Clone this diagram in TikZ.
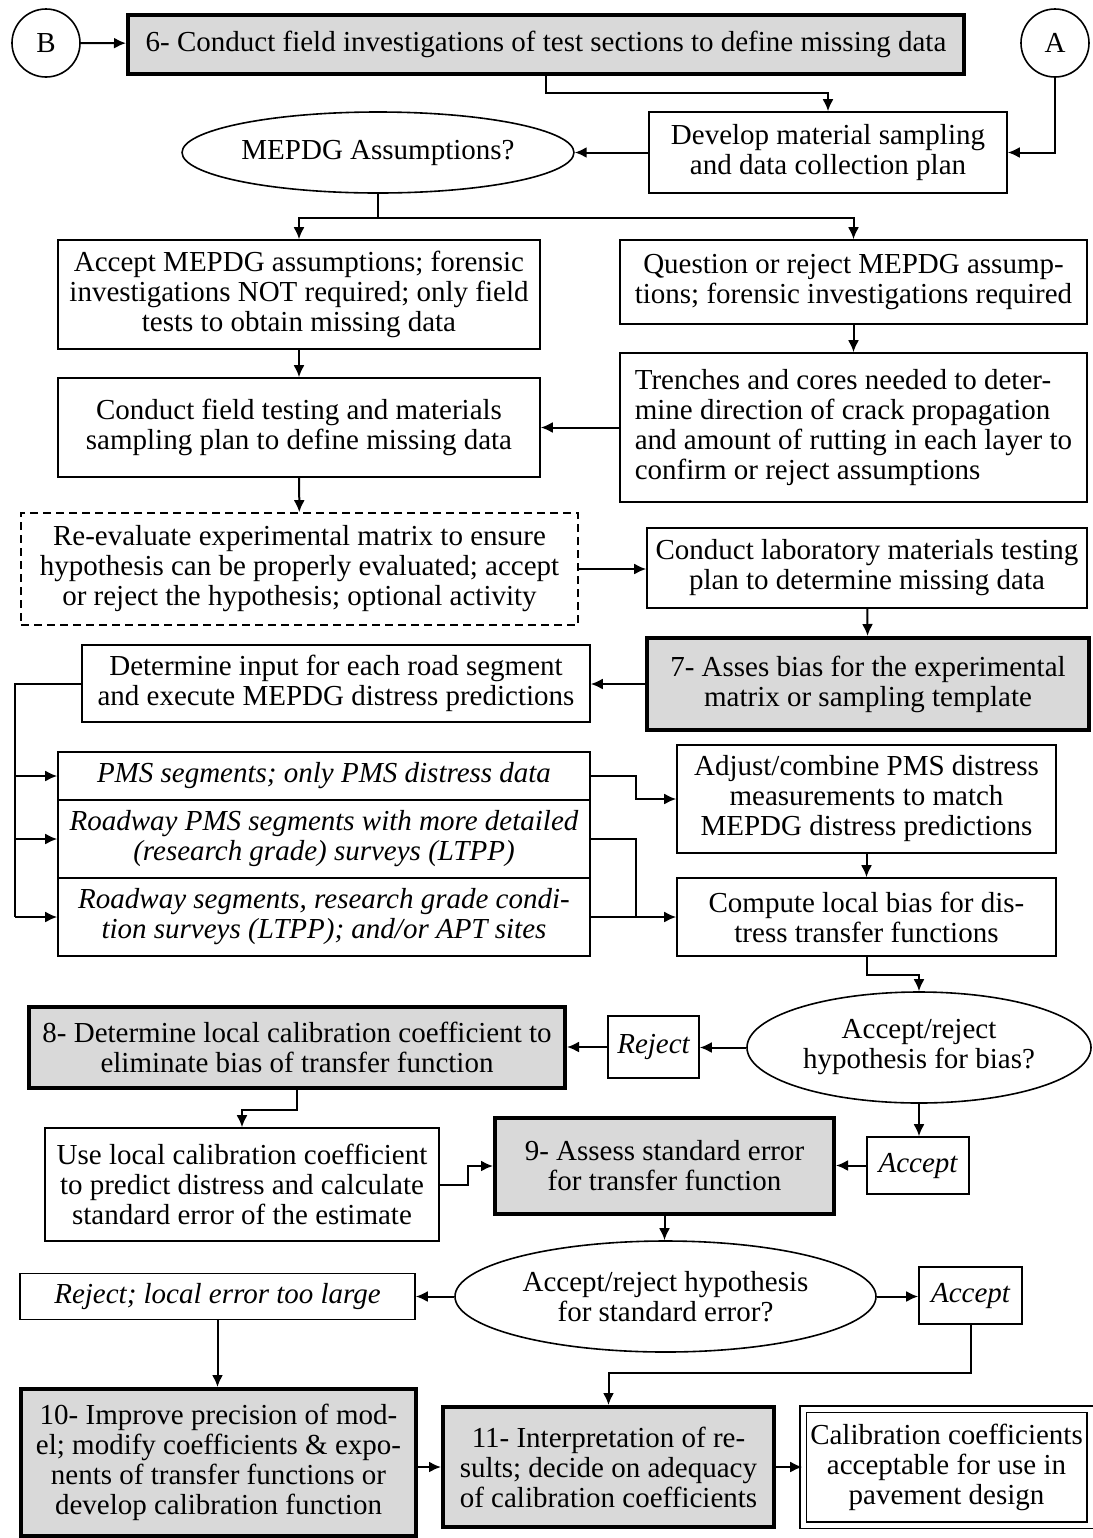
\documentclass[tikz,border=0pt]{standalone}
\usepackage{fontspec}
\setmainfont{Liberation Serif}
\usetikzlibrary{shapes.geometric,arrows.meta}

\begin{document}
\begin{tikzpicture}[x=0.5pt,y=-0.5pt,
  font=\fontsize{14.5}{15}\selectfont,
  box/.style={draw, line width=0.8pt, align=center, inner sep=2pt},
  stepbox/.style={box, fill=black!15, line width=2pt},
  ibox/.style={box, font=\fontsize{14.5}{15}\selectfont\itshape},
  optbox/.style={box, dash pattern=on 4pt off 2.5pt},
  ask/.style={draw, ellipse, line width=0.8pt, align=center, inner sep=1pt},
  tag/.style={draw, circle, line width=0.8pt, minimum size=34pt, inner sep=0pt},
  flow/.style={draw, line width=1pt, -{Latex[length=6pt,width=5.5pt]}},
  link/.style={draw, line width=1pt}]
\useasboundingbox (0,0) rectangle (1093,1538);

% top row
\node[tag] (B) at (46,43) {B};
\node[stepbox, minimum width=418pt, minimum height=29.5pt] (s6) at (546,44) {6- Conduct field investigations of test sections to define missing data};
\node[tag] (A) at (1055,43) {A};
\node[box, minimum width=179pt, minimum height=40.5pt] (plan) at (828,152.5) {Develop material sampling\\and data collection plan};
\node[ask, minimum width=195.5pt, minimum height=40.5pt] (assum) at (378,152.5) {MEPDG Assumptions?};

% assumptions
\node[box, minimum width=241pt, minimum height=54.5pt] (acc) at (299,294.5) {Accept MEPDG assumptions; forensic\\investigations NOT required; only field\\tests to obtain missing data};
\node[box, minimum width=233.5pt, minimum height=42pt] (quest) at (853.5,282) {Question or reject MEPDG assump-\\tions; forensic investigations required};
\node[box, align=left, minimum width=233.5pt, minimum height=74.5pt] (trench) at (853.5,427.5) {Trenches and cores needed to deter-\\mine direction of crack propagation\\and amount of rutting in each layer to\\confirm or reject assumptions};
\node[box, minimum width=241pt, minimum height=49.5pt] (field) at (299,427.5) {Conduct field testing and materials\\sampling plan to define missing data};
\node[optbox, minimum width=278.5pt, minimum height=56pt] (reeval) at (299.5,569) {Re-evaluate experimental matrix to ensure\\hypothesis can be properly evaluated; accept\\or reject the hypothesis; optional activity};
\node[box, minimum width=220pt, minimum height=40pt] (lab) at (867,568) {Conduct laboratory materials testing\\plan to determine missing data};

% bias
\node[stepbox, minimum width=221pt, minimum height=46pt] (s7) at (868,684) {7- Asses bias for the experimental\\matrix or sampling template};
\node[box, minimum width=254pt, minimum height=38.5pt] (input) at (336,683.5) {Determine input for each road segment\\and execute MEPDG distress predictions};
\node[ibox, minimum width=266pt, minimum height=24pt] (pms) at (324,776) {PMS segments; only PMS distress data};
\node[ibox, minimum width=266pt, minimum height=39pt] (ltpp) at (324,839) {Roadway PMS segments with more detailed\\(research grade) surveys (LTPP)};
\node[ibox, minimum width=266pt, minimum height=39pt] (apt) at (324,917) {Roadway segments, research grade condi-\\tion surveys (LTPP); and/or APT sites};
\node[box, minimum width=189.5pt, minimum height=54pt] (adjust) at (866.5,799) {Adjust/combine PMS distress\\measurements to match\\MEPDG distress predictions};
\node[box, minimum width=189.5pt, minimum height=39pt] (bias) at (866.5,917) {Compute local bias for dis-\\tress transfer functions};
\node[ask, minimum width=172pt, minimum height=55.5pt] (hypb) at (919,1047.5) {Accept/reject\\hypothesis for bias?};
\node[ibox, minimum width=45.5pt, minimum height=31pt] (rej1) at (653.5,1047) {Reject};
\node[stepbox, minimum width=268pt, minimum height=40.5pt] (s8) at (297,1047.5) {8- Determine local calibration coefficient to\\eliminate bias of transfer function};

% standard error
\node[box, minimum width=197pt, minimum height=56.5pt] (local) at (242,1184.5) {Use local calibration coefficient\\to predict distress and calculate\\standard error of the estimate};
\node[stepbox, minimum width=169.5pt, minimum height=48pt] (s9) at (664.5,1166) {9- Assess standard error\\for transfer function};
\node[ibox, minimum width=51pt, minimum height=28.5pt] (acc1) at (918,1165.5) {Accept};
\node[ask, minimum width=210.5pt, minimum height=55.5pt] (hyps) at (665.5,1296.5) {Accept/reject hypothesis\\for standard error?};
\node[ibox, minimum width=197.5pt, minimum height=23pt] (rej2) at (217.5,1296.5) {Reject; local error too large};
\node[ibox, minimum width=51.5pt, minimum height=28.5pt] (acc2) at (970.5,1295.5) {Accept};

% bottom row
\node[stepbox, minimum width=197.5pt, minimum height=73.5pt] (s10) at (218.5,1462.5) {10- Improve precision of mod-\\el; modify coefficients \& expo-\\nents of transfer functions or\\develop calibration function};
\node[stepbox, minimum width=165.5pt, minimum height=60pt] (s11) at (608.5,1467) {11- Interpretation of re-\\sults; decide on adequacy\\of calibration coefficients};
\node[box, double, double distance=2.5pt, minimum width=143.5pt, minimum height=58pt] (final) at (946.5,1467) {Calibration coefficients\\acceptable for use in\\pavement design};

% connectors
\path[flow] (B) -- (s6);
\path[flow] (s6.south) -- ++(0,17) -| (plan.north);
\path[flow] (A.south) |- (plan.east);
\path[flow] (plan) -- (assum);
\path[link] (assum.south) -- ++(0,24) coordinate (fork);
\path[flow] (fork) -| (acc.north);
\path[flow] (fork) -| (quest.north);
\path[flow] (quest) -- (trench);
\path[flow] (acc) -- (field);
\path[flow] (trench) -- (field);
\path[flow] (field) -- (reeval);
\path[flow] (reeval.east) -- (reeval.east -| lab.west);
\path[flow] (lab) -- (s7);
\path[flow] (s7.west) -- (s7.west -| input.east);
\coordinate (bus) at (15,683.5);
\path[link] (input.west) -- (bus) -- (bus |- apt.west);
\foreach \seg in {pms,ltpp,apt}
  \path[flow] (bus |- \seg.west) -- (\seg.west);
\path[flow] (pms.east) -- ++(45,0) |- (adjust.west);
\path[link] (ltpp.east) -- ++(45,0) |- (apt.east);
\path[flow] (apt.east) -- (apt.east -| bias.west);
\path[flow] (adjust) -- (bias);
\path[flow] (bias.south) -- ++(0,18) -| (hypb.north);
\path[flow] (hypb.west) -- (hypb.west -| rej1.east);
\path[flow] (rej1.west) -- (rej1.west -| s8.east);
\path[flow] (s8.south) -- ++(0,20) -| (local.north);
\path[flow] (local.east) -- ++(28,0) |- (s9.west);
\path[flow] (hypb.south) -- (hypb.south |- acc1.north);
\path[flow] (acc1.west) -- (acc1.west -| s9.east);
\path[flow] (s9.south) -- (s9.south |- hyps.north);
\path[flow] (hyps.west) -- (hyps.west -| rej2.east);
\path[flow] (hyps.east) -- (hyps.east -| acc2.west);
\path[flow] (rej2.south) -- (rej2.south |- s10.north);
\path[flow] (acc2.south) -- ++(0,48) -| (s11.north);
\path[flow] (s11.west -| s10.east) -- (s11.west);
\path[flow] (s11.east) -- (s11.east -| final.west);
\end{tikzpicture}
\end{document}
